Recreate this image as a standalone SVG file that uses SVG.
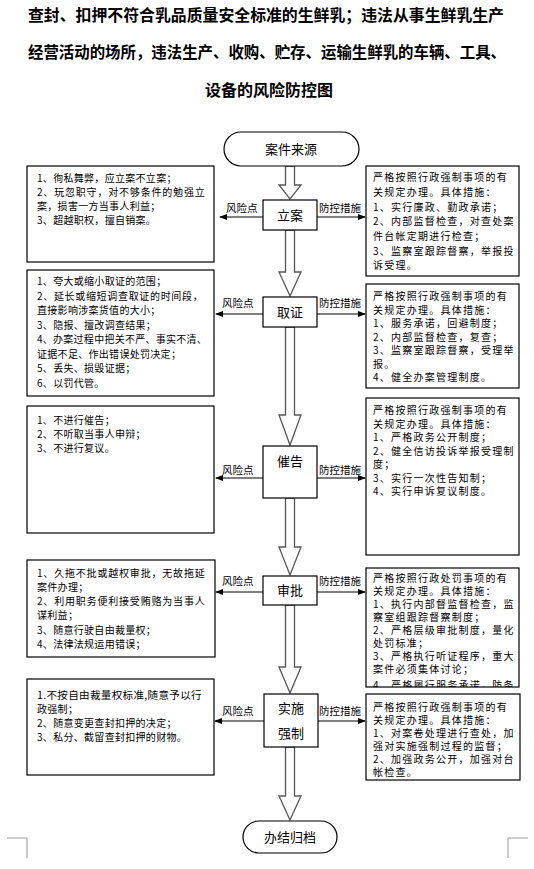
<svg xmlns="http://www.w3.org/2000/svg" width="534" height="869" viewBox="0 0 534 869">
<style>
text{font-family:"Noto Sans CJK SC","Liberation Sans",sans-serif;fill:#000}
.title{font-size:16px;font-weight:700}
.lb{font-size:10px;letter-spacing:0.3px}
.rb{font-size:10px;letter-spacing:1.25px}
.node{font-size:13px;text-anchor:middle}
.lab{font-size:10.5px}
.box{fill:#fff;stroke:#000;stroke-width:1.2}
.harrow{fill:#fff;stroke:#555;stroke-width:1.3}
.line{stroke:#000;stroke-width:1;fill:none}
.crop{stroke:#999;stroke-width:1;fill:none}
</style>
<defs>
<marker id="ah" markerWidth="8" markerHeight="6" refX="7" refY="3" orient="auto" markerUnits="userSpaceOnUse">
<path d="M0,0 L8,3 L0,6 Z" fill="#000"/>
</marker>
<clipPath id="clipR4"><rect x="366" y="568" width="153" height="119"/></clipPath>
</defs>
<rect width="534" height="869" fill="#fff"/>
<g id="title">
<text class="title" x="28" y="21" textLength="476" lengthAdjust="spacingAndGlyphs">查封、扣押不符合乳品质量安全标准的生鲜乳；违法从事生鲜乳生产</text>
<text class="title" x="28" y="58" textLength="478" lengthAdjust="spacingAndGlyphs">经营活动的场所，违法生产、收购、贮存、运输生鲜乳的车辆、工具、</text>
<text class="title" x="269" y="96" text-anchor="middle">设备的风险防控图</text>
</g>
<g id="connectors">
<polygon class="harrow" points="285.5,166 294.5,166 294.5,185 301,185 290,199 279,185 285.5,185"/>
<polygon class="harrow" points="285.5,230 294.5,230 294.5,272 301,272 290,296 279,272 285.5,272"/>
<polygon class="harrow" points="285.5,327 294.5,327 294.5,415 301,415 290,445 279,415 285.5,415"/>
<polygon class="harrow" points="285.5,498 294.5,498 294.5,547 301,547 290,575 279,547 285.5,547"/>
<polygon class="harrow" points="285.5,605 294.5,605 294.5,667 301,667 290,693 279,667 285.5,667"/>
<polygon class="harrow" points="285.5,747 294.5,747 294.5,796 301,796 290,820 279,796 285.5,796"/>
<line class="line" x1="263" y1="217" x2="220" y2="217" marker-end="url(#ah)"/>
<line class="line" x1="317" y1="217" x2="365" y2="217" marker-end="url(#ah)"/>
<line class="line" x1="263" y1="314" x2="216" y2="314" marker-end="url(#ah)"/>
<line class="line" x1="317" y1="314" x2="365" y2="314" marker-end="url(#ah)"/>
<line class="line" x1="263" y1="478" x2="216" y2="478" marker-end="url(#ah)"/>
<line class="line" x1="317" y1="478" x2="365" y2="478" marker-end="url(#ah)"/>
<line class="line" x1="263" y1="592" x2="216" y2="592" marker-end="url(#ah)"/>
<line class="line" x1="317" y1="592" x2="365" y2="592" marker-end="url(#ah)"/>
<line class="line" x1="264" y1="721" x2="215" y2="721" marker-end="url(#ah)"/>
<line class="line" x1="318" y1="721" x2="365" y2="721" marker-end="url(#ah)"/>
<text class="lab" x="226" y="212">风险点</text>
<text class="lab" x="319" y="212">防控措施</text>
<text class="lab" x="222" y="307">风险点</text>
<text class="lab" x="319" y="307">防控措施</text>
<text class="lab" x="222" y="474">风险点</text>
<text class="lab" x="319" y="474">防控措施</text>
<text class="lab" x="222" y="585">风险点</text>
<text class="lab" x="319" y="585">防控措施</text>
<text class="lab" x="222" y="715">风险点</text>
<text class="lab" x="319" y="715">防控措施</text>
</g>
<g id="start">
<rect class="box" x="224" y="132" width="135" height="34" rx="17"/>
<text class="node" x="291" y="154">案件来源</text>
</g>
<g id="lian">
<rect class="box" x="263" y="200" width="54" height="30"/>
<text class="node" x="290" y="220">立案</text>
</g>
<g id="quzheng">
<rect class="box" x="263" y="297" width="54" height="30"/>
<text class="node" x="290" y="317">取证</text>
</g>
<g id="cuigao">
<rect class="box" x="263" y="446" width="54" height="52"/>
<text class="node" x="290" y="466">催告</text>
</g>
<g id="shenpi">
<rect class="box" x="263" y="576" width="54" height="29"/>
<text class="node" x="290" y="595">审批</text>
</g>
<g id="shishi">
<rect class="box" x="264" y="694" width="54" height="53"/>
<text class="node" x="291" y="713">实施</text>
<text class="node" x="291" y="738">强制</text>
</g>
<g id="end">
<rect class="box" x="243" y="821" width="94" height="32" rx="16"/>
<text class="node" x="290" y="842">办结归档</text>
</g>
<g id="risk1">
<rect class="box" x="27" y="166" width="187" height="96"/>
<text class="lb" x="37" y="182">1、徇私舞弊，应立案不立案；</text>
<text class="lb" x="37" y="196" textLength="168">2、玩忽职守，对不够条件的勉强立</text>
<text class="lb" x="37" y="210">案，损害一方当事人利益；</text>
<text class="lb" x="37" y="224">3、超越职权，擅自销案。</text>
</g>
<g id="risk2">
<rect class="box" x="27" y="270" width="187" height="126"/>
<text class="lb" x="37" y="285">1、夸大或缩小取证的范围；</text>
<text class="lb" x="37" y="299.5" textLength="166">2、延长或缩短调查取证的时间段，</text>
<text class="lb" x="37" y="314">直接影响涉案货值的大小；</text>
<text class="lb" x="37" y="328.5">3、隐报、擅改调查结果；</text>
<text class="lb" x="37" y="343" textLength="170" lengthAdjust="spacingAndGlyphs">4、办案过程中把关不严、事实不清、</text>
<text class="lb" x="37" y="357.5">证据不足、作出错误处罚决定；</text>
<text class="lb" x="37" y="372">5、丢失、损毁证据；</text>
<text class="lb" x="37" y="386.5">6、以罚代管。</text>
</g>
<g id="risk3">
<rect class="box" x="27" y="406" width="187" height="127"/>
<text class="lb" x="37" y="424">1、不进行催告；</text>
<text class="lb" x="37" y="438">2、不听取当事人申辩；</text>
<text class="lb" x="37" y="452">3、不进行复议。</text>
</g>
<g id="risk4">
<rect class="box" x="27" y="560" width="188" height="97"/>
<text class="lb" x="37" y="577" textLength="168">1、久拖不批或越权审批，无故拖延</text>
<text class="lb" x="37" y="591">案件办理；</text>
<text class="lb" x="37" y="605" textLength="168">2、利用职务便利接受贿赂为当事人</text>
<text class="lb" x="37" y="619">谋利益；</text>
<text class="lb" x="37" y="634">3、随意行驶自由裁量权；</text>
<text class="lb" x="37" y="648">4、法律法规运用错误；</text>
</g>
<g id="risk5">
<rect class="box" x="27" y="679" width="187" height="96"/>
<text class="lb" x="37" y="699" textLength="165" lengthAdjust="spacingAndGlyphs">1.不按自由裁量权标准,随意予以行</text>
<text class="lb" x="37" y="713">政强制；</text>
<text class="lb" x="37" y="727">2、随意变更查封扣押的决定；</text>
<text class="lb" x="37" y="741">3、私分、截留查封扣押的财物。</text>
</g>
<g id="measure1">
<rect class="box" x="366" y="166" width="153" height="110"/>
<text class="rb" x="373" y="181">严格按照行政强制事项的有</text>
<text class="rb" x="373" y="196">关规定办理。具体措施：</text>
<text class="rb" x="373" y="211">1、实行廉政、勤政承诺；</text>
<text class="rb" x="373" y="225">2、内部监督检查，对查处案</text>
<text class="rb" x="373" y="240">件台帐定期进行检查；</text>
<text class="rb" x="373" y="255">3、监察室跟踪督察，举报投</text>
<text class="rb" x="373" y="269">诉受理。</text>
</g>
<g id="measure2">
<rect class="box" x="366" y="284" width="153" height="104"/>
<text class="rb" x="373" y="300">严格按照行政强制事项的有</text>
<text class="rb" x="373" y="313.5">关规定办理。具体措施：</text>
<text class="rb" x="373" y="327">1、服务承诺，回避制度；</text>
<text class="rb" x="373" y="340.5">2、内部监督检查，复查；</text>
<text class="rb" x="373" y="354">3、监察室跟踪督察，受理举</text>
<text class="rb" x="373" y="367.5">报。</text>
<text class="rb" x="373" y="381">4、健全办案管理制度。</text>
</g>
<g id="measure3">
<rect class="box" x="366" y="398" width="153" height="157"/>
<text class="rb" x="373" y="414">严格按照行政强制事项的有</text>
<text class="rb" x="373" y="427.5">关规定办理。具体措施：</text>
<text class="rb" x="373" y="441">1、严格政务公开制度；</text>
<text class="rb" x="373" y="454.5">2、健全信访投诉举报受理制</text>
<text class="rb" x="373" y="468">度；</text>
<text class="rb" x="373" y="481.5">3、实行一次性告知制；</text>
<text class="rb" x="373" y="495">4、实行申诉复议制度。</text>
</g>
<g id="measure4">
<rect class="box" x="366" y="568" width="153" height="119"/>
<g clip-path="url(#clipR4)">
<text class="rb" x="373" y="582">严格按照行政处罚事项的有</text>
<text class="rb" x="373" y="595">关规定办理。具体措施：</text>
<text class="rb" x="373" y="608">1、执行内部督监督检查，监</text>
<text class="rb" x="373" y="621">察室组跟踪督察制度；</text>
<text class="rb" x="373" y="634">2、严格层级审批制度，量化</text>
<text class="rb" x="373" y="647">处罚标准；</text>
<text class="rb" x="373" y="660">3、严格执行听证程序，重大</text>
<text class="rb" x="373" y="673">案件必须集体讨论；</text>
<text class="rb" x="373" y="689">4、严格履行服务承诺，防条</text>
</g>
</g>
<g id="measure5">
<rect class="box" x="366" y="694" width="154" height="86"/>
<text class="rb" x="373" y="711">严格按照行政强制事项的有</text>
<text class="rb" x="373" y="724">关规定办理。具体措施：</text>
<text class="rb" x="373" y="737">1、对案卷处理进行查处，加</text>
<text class="rb" x="373" y="750">强对实施强制过程的监督；</text>
<text class="rb" x="373" y="763">2、加强政务公开，加强对台</text>
<text class="rb" x="373" y="776">帐检查。</text>
</g>
<g id="cropmarks">
<path class="crop" d="M7,838 H27 V858"/>
<path class="crop" d="M528,838 H508 V858"/>
</g>
</svg>
